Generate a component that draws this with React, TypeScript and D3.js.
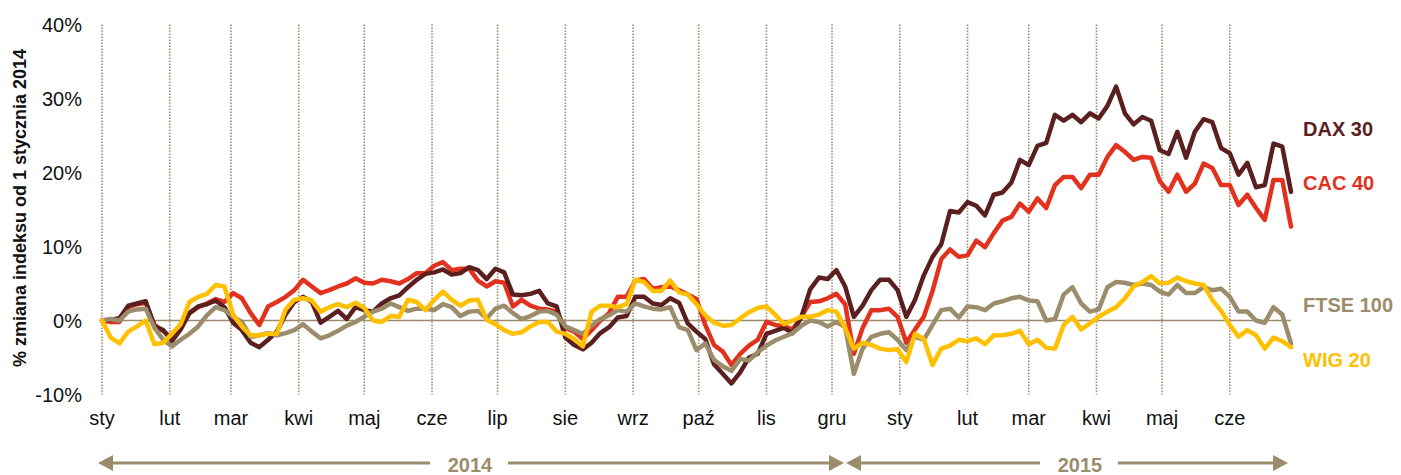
import React from 'react';
import * as d3 from 'd3';

// sampled every 4 days, values = % change since 1 Jan 2014
const dates = [
  '2014-01-01', '2014-01-05', '2014-01-09', '2014-01-13', '2014-01-17', '2014-01-21', '2014-01-25', '2014-01-29',
  '2014-02-02', '2014-02-06', '2014-02-10', '2014-02-14', '2014-02-18', '2014-02-22', '2014-02-26',
  '2014-03-02', '2014-03-06', '2014-03-10', '2014-03-14', '2014-03-18', '2014-03-22', '2014-03-26', '2014-03-30',
  '2014-04-03', '2014-04-07', '2014-04-11', '2014-04-15', '2014-04-19', '2014-04-23', '2014-04-27',
  '2014-05-01', '2014-05-05', '2014-05-09', '2014-05-13', '2014-05-17', '2014-05-21', '2014-05-25', '2014-05-29',
  '2014-06-02', '2014-06-06', '2014-06-10', '2014-06-14', '2014-06-18', '2014-06-22', '2014-06-26', '2014-06-30',
  '2014-07-04', '2014-07-08', '2014-07-12', '2014-07-16', '2014-07-20', '2014-07-24', '2014-07-28',
  '2014-08-01', '2014-08-05', '2014-08-09', '2014-08-13', '2014-08-17', '2014-08-21', '2014-08-25', '2014-08-29',
  '2014-09-02', '2014-09-06', '2014-09-10', '2014-09-14', '2014-09-18', '2014-09-22', '2014-09-26', '2014-09-30',
  '2014-10-04', '2014-10-08', '2014-10-12', '2014-10-16', '2014-10-20', '2014-10-24', '2014-10-28',
  '2014-11-01', '2014-11-05', '2014-11-09', '2014-11-13', '2014-11-17', '2014-11-21', '2014-11-25', '2014-11-29',
  '2014-12-03', '2014-12-07', '2014-12-11', '2014-12-15', '2014-12-19', '2014-12-23', '2014-12-27', '2014-12-31',
  '2015-01-04', '2015-01-08', '2015-01-12', '2015-01-16', '2015-01-20', '2015-01-24', '2015-01-28',
  '2015-02-01', '2015-02-05', '2015-02-09', '2015-02-13', '2015-02-17', '2015-02-21', '2015-02-25',
  '2015-03-01', '2015-03-05', '2015-03-09', '2015-03-13', '2015-03-17', '2015-03-21', '2015-03-25', '2015-03-29',
  '2015-04-02', '2015-04-06', '2015-04-10', '2015-04-14', '2015-04-18', '2015-04-22', '2015-04-26', '2015-04-30',
  '2015-05-04', '2015-05-08', '2015-05-12', '2015-05-16', '2015-05-20', '2015-05-24', '2015-05-28',
  '2015-06-01', '2015-06-05', '2015-06-09', '2015-06-13', '2015-06-17', '2015-06-21', '2015-06-25', '2015-06-29',
];

const dax30 = [
  0, 0.1, 0.3, 2.0, 2.3, 2.6, -0.8, -1.3, -2.8, -1.2, 1.0, 1.9, 2.2, 2.7, 1.8,
  -0.3, -1.3, -3.0, -3.6, -2.6, -1.5, 0.8, 2.5, 3.2, 2.5, -0.3, 0.5, 1.3, 0.2, 1.8,
  1.4, 1.2, 2.3, 3.0, 3.4, 4.5, 5.5, 6.3, 6.5, 6.9, 6.2, 6.4, 7.2, 6.8, 5.6, 7.0,
  6.5, 3.5, 3.4, 3.6, 4.0, 2.3, 1.9, -2.3, -3.3, -3.9, -3.0, -1.7, -0.9, 0.4, 0.6,
  3.2, 3.2, 2.3, 2.1, 3.0, 2.4, -0.4, -1.5, -2.5, -5.9, -7.2, -8.5, -7.0, -5.0, -4.5,
  -1.8, -1.4, -1.0, -1.7, 0.5, 4.2, 5.8, 5.6, 6.8, 4.6, 0.5, 2.0, 4.1, 5.5, 5.5, 4.1,
  0.5, 2.8, 6.1, 8.6, 10.3, 14.8, 14.6, 16.0, 15.5, 14.2, 17.0, 17.3, 18.6, 21.7,
  21.0, 23.6, 24.0, 27.8, 27.0, 27.8, 26.8, 28.0, 27.3, 29.0, 31.6, 28.0, 26.5, 27.5,
  27.0, 23.0, 22.5, 25.5, 22.0, 25.5, 27.2, 26.8, 23.3, 22.6, 19.7, 21.3, 18.0, 18.3,
  23.9, 23.5, 17.4,
];

const cac40 = [
  0, -0.2, -0.2, 1.8, 2.2, 2.4, -0.6, -1.4, -2.4, -0.5, 1.0, 1.8, 2.3, 2.9, 2.5,
  3.7, 3.0, 1.0, -0.6, 1.9, 2.5, 3.2, 4.1, 5.5, 4.6, 3.7, 4.1, 4.6, 5.0, 5.7,
  5.1, 5.0, 5.5, 5.3, 5.0, 5.6, 6.4, 6.4, 7.4, 7.9, 6.8, 7.0, 7.0, 5.4, 4.6, 5.3,
  5.1, 1.9, 2.8, 2.0, 1.6, 1.5, 1.2, -1.0, -1.5, -2.5, -1.3, 0.0, 1.0, 3.2, 3.2,
  5.4, 5.6, 4.3, 4.5, 4.6, 4.1, 3.5, 2.9, -0.6, -3.3, -4.2, -6.0, -4.5, -3.4, -2.6,
  -0.2, -0.6, -0.8, -1.2, 0.5, 2.5, 2.6, 3.0, 3.6, 2.2, -4.5, -1.0, 1.4, 1.4, 1.6, 0.5,
  -3.0, -1.2, 0.5, 4.0, 8.3, 9.6, 8.6, 8.8, 10.8, 9.9, 11.8, 13.5, 14.0, 15.8,
  14.7, 16.5, 15.2, 18.3, 19.4, 19.4, 17.9, 19.7, 19.7, 22.1, 23.7, 22.8, 21.7, 22.1,
  22.0, 18.8, 17.4, 19.7, 17.4, 18.5, 21.2, 20.6, 18.3, 18.3, 15.6, 17.0, 15.2, 13.6,
  19.0, 19.0, 12.7,
];

const ftse100 = [
  0, 0.2, 0.0, 1.2, 1.5, 1.6, -1.0, -2.6, -3.5, -2.6, -1.8, -0.8, 0.7, 1.8, 1.4,
  0.5, -0.2, -2.2, -2.0, -1.7, -2.0, -1.7, -1.3, -0.5, -1.5, -2.4, -2.0, -1.4, -0.7, -0.2,
  0.5, 1.2, 1.6, 2.3, 1.8, 1.3, 1.6, 1.6, 1.4, 2.2, 1.8, 0.6, 1.2, 1.3, 0.3, 1.6,
  2.0, 1.0, 0.2, 0.6, 1.2, 1.3, 0.8, -0.8, -1.3, -1.8, -0.7, 0.2, 0.7, 1.4, 1.2,
  2.3, 1.9, 1.6, 1.5, 1.8, -0.9, -1.3, -4.0, -3.1, -5.3, -6.2, -6.8, -5.2, -5.4, -4.3,
  -3.4, -2.7, -2.2, -1.7, -0.7, 0.0, -0.2, -0.8, -0.2, -0.9, -7.2, -3.8, -2.2, -1.8, -1.6, -2.6,
  -4.0, -2.2, -2.6, -0.6, 1.4, 1.6, 0.4, 1.9, 1.8, 1.4, 2.3, 2.6, 3.0, 3.2,
  2.7, 2.6, 0.0, 0.2, 3.5, 4.5, 2.3, 1.2, 1.5, 4.5, 5.2, 5.1, 4.8, 5.0,
  4.8, 3.9, 3.5, 4.8, 3.7, 3.7, 4.5, 4.1, 4.3, 3.2, 1.2, 1.2, 0.0, -0.3,
  1.8, 0.8, -3.1,
];

const wig20 = [
  0, -2.3, -3.1, -1.5, -0.8, 0.0, -3.2, -3.0, -1.8, -0.5, 2.5, 3.2, 3.6, 4.8, 4.6,
  0.8, -0.8, -2.0, -2.0, -1.8, -1.8, 1.5, 2.8, 3.0, 2.7, 1.2, 1.8, 2.2, 1.8, 2.4,
  1.7, 0.0, -0.2, 0.6, 0.5, 2.8, 2.5, 1.4, 2.8, 3.9, 2.8, 2.0, 2.7, 2.8, 0.1, -0.5,
  -1.3, -1.8, -1.6, -0.8, -0.2, -0.2, -1.5, -1.8, -2.5, -3.5, 1.2, 2.0, 2.0, 1.8, 2.2,
  5.5, 5.2, 4.0, 4.0, 5.4, 3.8, 3.5, 2.2, 0.7, -0.3, -0.7, -0.6, 0.3, 1.1, 1.7,
  1.9, 0.8, -0.5, 0.0, 0.5, 0.5, 0.8, 1.4, 1.2, -1.0, -3.8, -3.0, -3.3, -3.8, -4.0, -3.9,
  -5.6, -1.8, -2.5, -6.0, -3.8, -3.4, -2.6, -2.8, -2.4, -3.2, -2.0, -2.0, -1.8, -1.4,
  -3.2, -2.6, -3.7, -3.8, -0.6, 0.5, -1.2, -0.4, 0.5, 1.2, 1.8, 3.0, 4.6, 5.2,
  6.0, 5.0, 5.1, 5.8, 5.3, 5.0, 4.8, 2.8, 1.3, -0.6, -2.2, -1.3, -2.0, -3.8,
  -2.3, -2.8, -3.6,
];

const monthLabels = ['sty', 'lut', 'mar', 'kwi', 'maj', 'cze', 'lip', 'sie', 'wrz', 'paź', 'lis', 'gru',
  'sty', 'lut', 'mar', 'kwi', 'maj', 'cze'];
const yTicks = [-10, 0, 10, 20, 30, 40];
const yearLabels = ['2014', '2015'];

const FONT = 'Arial, "Liberation Sans", Helvetica, sans-serif';
const TAUPE = '#9b8c6c';

function Arrow({ x1, x2, y, head }: { x1: number; x2: number; y: number; head: 'left' | 'right' }) {
  const tip = head === 'left' ? x1 : x2;
  const dir = head === 'left' ? 1 : -1;
  return (
    <g>
      <line x1={head === 'left' ? x1 + 10 : x1} x2={head === 'right' ? x2 - 10 : x2} y1={y} y2={y}
        stroke={TAUPE} strokeWidth={3} />
      <polygon points={`${tip},${y} ${tip + dir * 15},${y - 8} ${tip + dir * 15},${y + 8}`} fill={TAUPE} />
    </g>
  );
}

export default function App() {
  const parse = d3.utcParse('%Y-%m-%d');
  const days = dates.map(d => parse(d) as Date);

  const x = d3.scaleUtc().domain([days[0], days[days.length - 1]]).range([102, 1291]);
  const y = d3.scaleLinear().domain([-10, 40]).range([394.5, 24.5]);
  const months = d3.utcMonth.range(days[0], new Date(Date.UTC(2015, 6, 1)));

  const line = d3.line<number>()
    .x((_, i) => x(days[i]))
    .y(v => y(v));

  // draw order: CAC under DAX, WIG on top
  const series = [
    { name: 'CAC 40', values: cac40, color: '#e2311d', labelY: 190 },
    { name: 'DAX 30', values: dax30, color: '#5c1f1f', labelY: 136 },
    { name: 'FTSE 100', values: ftse100, color: TAUPE, labelY: 312 },
    { name: 'WIG 20', values: wig20, color: '#ffc000', labelY: 367 },
  ];

  const arrowY = 463;

  return (
    <svg width={1401} height={475} style={{ position: 'absolute', left: 0, top: 0, display: 'block' }}
      fontFamily={FONT}>
      <rect width={1401} height={475} fill="#fff" />

      {/* month gridlines */}
      {months.map((m, i) => (
        <line key={i} x1={x(m)} x2={x(m)} y1={y(40)} y2={y(-10)}
          stroke={TAUPE} strokeWidth={1.6} strokeDasharray="1.5 1.5" />
      ))}

      {/* zero line */}
      <line x1={x(days[0])} x2={x(days[days.length - 1])} y1={y(0)} y2={y(0)} stroke={TAUPE} strokeWidth={1.6} />

      {/* y ticks */}
      {yTicks.map(t => (
        <text key={t} x={82} y={y(t)} dy="0.35em" textAnchor="end" fontSize={20} fill="#111">{t}%</text>
      ))}

      <text transform="translate(26,208) rotate(-90)" textAnchor="middle" fontSize={18} fontWeight="bold" fill="#111">
        % zmiana indeksu od 1 stycznia 2014
      </text>

      {/* month labels */}
      {months.map((m, i) => (
        <text key={i} x={x(m)} y={425} textAnchor="middle" fontSize={20} fill="#111">{monthLabels[i]}</text>
      ))}

      {/* series */}
      {series.map(s => (
        <path key={s.name} d={line(s.values) || ''} fill="none" stroke={s.color} strokeWidth={4.5}
          strokeLinejoin="round" strokeLinecap="round" />
      ))}

      {series.map(s => (
        <text key={s.name} x={1303} y={s.labelY} fontSize={20} fontWeight="bold" fill={s.color}>{s.name}</text>
      ))}

      {/* year arrows */}
      <Arrow x1={98} x2={430} y={arrowY} head="left" />
      <text x={470} y={472} textAnchor="middle" fontSize={20} fontWeight="bold" fill={TAUPE}>{yearLabels[0]}</text>
      <Arrow x1={508} x2={844} y={arrowY} head="right" />
      <Arrow x1={846} x2={1040} y={arrowY} head="left" />
      <text x={1080} y={472} textAnchor="middle" fontSize={20} fontWeight="bold" fill={TAUPE}>{yearLabels[1]}</text>
      <Arrow x1={1118} x2={1288} y={arrowY} head="right" />
    </svg>
  );
}
